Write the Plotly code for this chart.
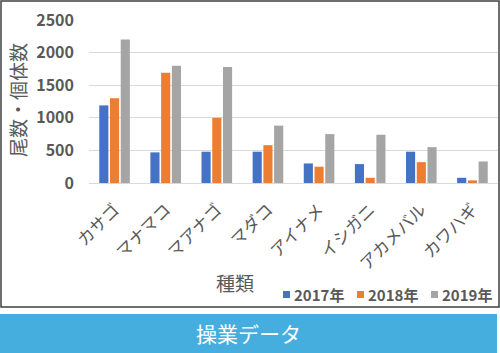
import plotly.graph_objects as go

categories = ["カサゴ", "マナマコ", "マアナゴ", "マダコ", "アイナメ", "イシガニ", "アカメバル", "カワハギ"]
series_names = ["2017年", "2018年", "2019年"]
v2017 = [1190, 470, 480, 480, 300, 290, 480, 80]
v2018 = [1300, 1690, 1000, 580, 250, 80, 320, 40]
v2019 = [2200, 1800, 1780, 880, 750, 740, 550, 330]
colors = ["#4472C4", "#ED7D31", "#A5A5A5"]
y_ticks = [0, 500, 1000, 1500, 2000, 2500]

W, H = 500, 353
L, R_edge, T, B_edge = 89, 498, 20, 183  # plot area in px
pw, ph = R_edge - L, B_edge - T

def px(x):
    return (x - L) / pw

def py(y):
    return (B_edge - y) / ph

font_fam = "Noto Sans CJK JP, Noto Sans, sans-serif"
gray = "#595959"

fig = go.Figure()
for name, vals, c in zip(series_names, [v2017, v2018, v2019], colors):
    fig.add_trace(go.Bar(x=categories, y=vals, name=name, marker=dict(color=c, line=dict(width=0))))

fig.update_layout(
    width=W, height=H,
    margin=dict(l=L, r=W - R_edge, t=T, b=H - B_edge, pad=0, autoexpand=False),
    paper_bgcolor="white", plot_bgcolor="white",
    barmode="group", bargap=0.37, bargroupgap=0.15,
    font=dict(family=font_fam, color=gray),
    showlegend=False,
)
fig.update_yaxes(range=[0, 2500], tickvals=y_ticks, showgrid=True, gridcolor="#D9D9D9", gridwidth=1,
                 zeroline=False, showline=False, ticks="", ticklabelstandoff=14,
                 tickfont=dict(size=16, color=gray, family=font_fam, weight="bold"))
fig.update_xaxes(tickangle=-45, showline=True, linecolor="#D9D9D9", linewidth=1, ticks="",
                 ticklabelstandoff=9,
                 tickfont=dict(size=17, color=gray, family=font_fam), showgrid=False)

# legend (bottom right)
for i, (name, c) in enumerate(zip(series_names, colors)):
    sx = 283 + 74 * i
    fig.add_shape(type="rect", xref="paper", yref="paper", x0=px(sx), x1=px(sx + 7),
                  y0=py(298), y1=py(291), line=dict(width=0), fillcolor=c)
    fig.add_annotation(text=name, xref="paper", yref="paper", x=px(sx + 9), y=py(294.5),
                       showarrow=False, xanchor="left", yanchor="middle",
                       font=dict(size=15, color=gray, family=font_fam, weight="bold"))

# axis titles
fig.add_annotation(text="尾数・個体数", xref="paper", yref="paper", x=px(17), y=py(100),
                   textangle=-90, showarrow=False, font=dict(size=19, color=gray, family=font_fam),
                   xanchor="center", yanchor="middle")
fig.add_annotation(text="種類", xref="paper", yref="paper", x=px(235), y=py(282),
                   showarrow=False, font=dict(size=19, color=gray, family=font_fam),
                   xanchor="center", yanchor="middle")

# chart border
fig.add_shape(type="rect", xref="paper", yref="paper", x0=px(1), x1=px(499), y0=py(307), y1=py(1),
              line=dict(color="#404040", width=1.5), fillcolor="rgba(0,0,0,0)", layer="below")
# banner
fig.add_shape(type="rect", xref="paper", yref="paper", x0=px(0), x1=px(497), y0=py(353), y1=py(314),
              line=dict(width=0), fillcolor="#45AEDF", layer="below")
fig.add_annotation(text="操業データ", xref="paper", yref="paper", x=px(248), y=py(333),
                   showarrow=False, font=dict(size=21, color="white", family=font_fam),
                   xanchor="center", yanchor="middle")

fig.write_html("out.html")
